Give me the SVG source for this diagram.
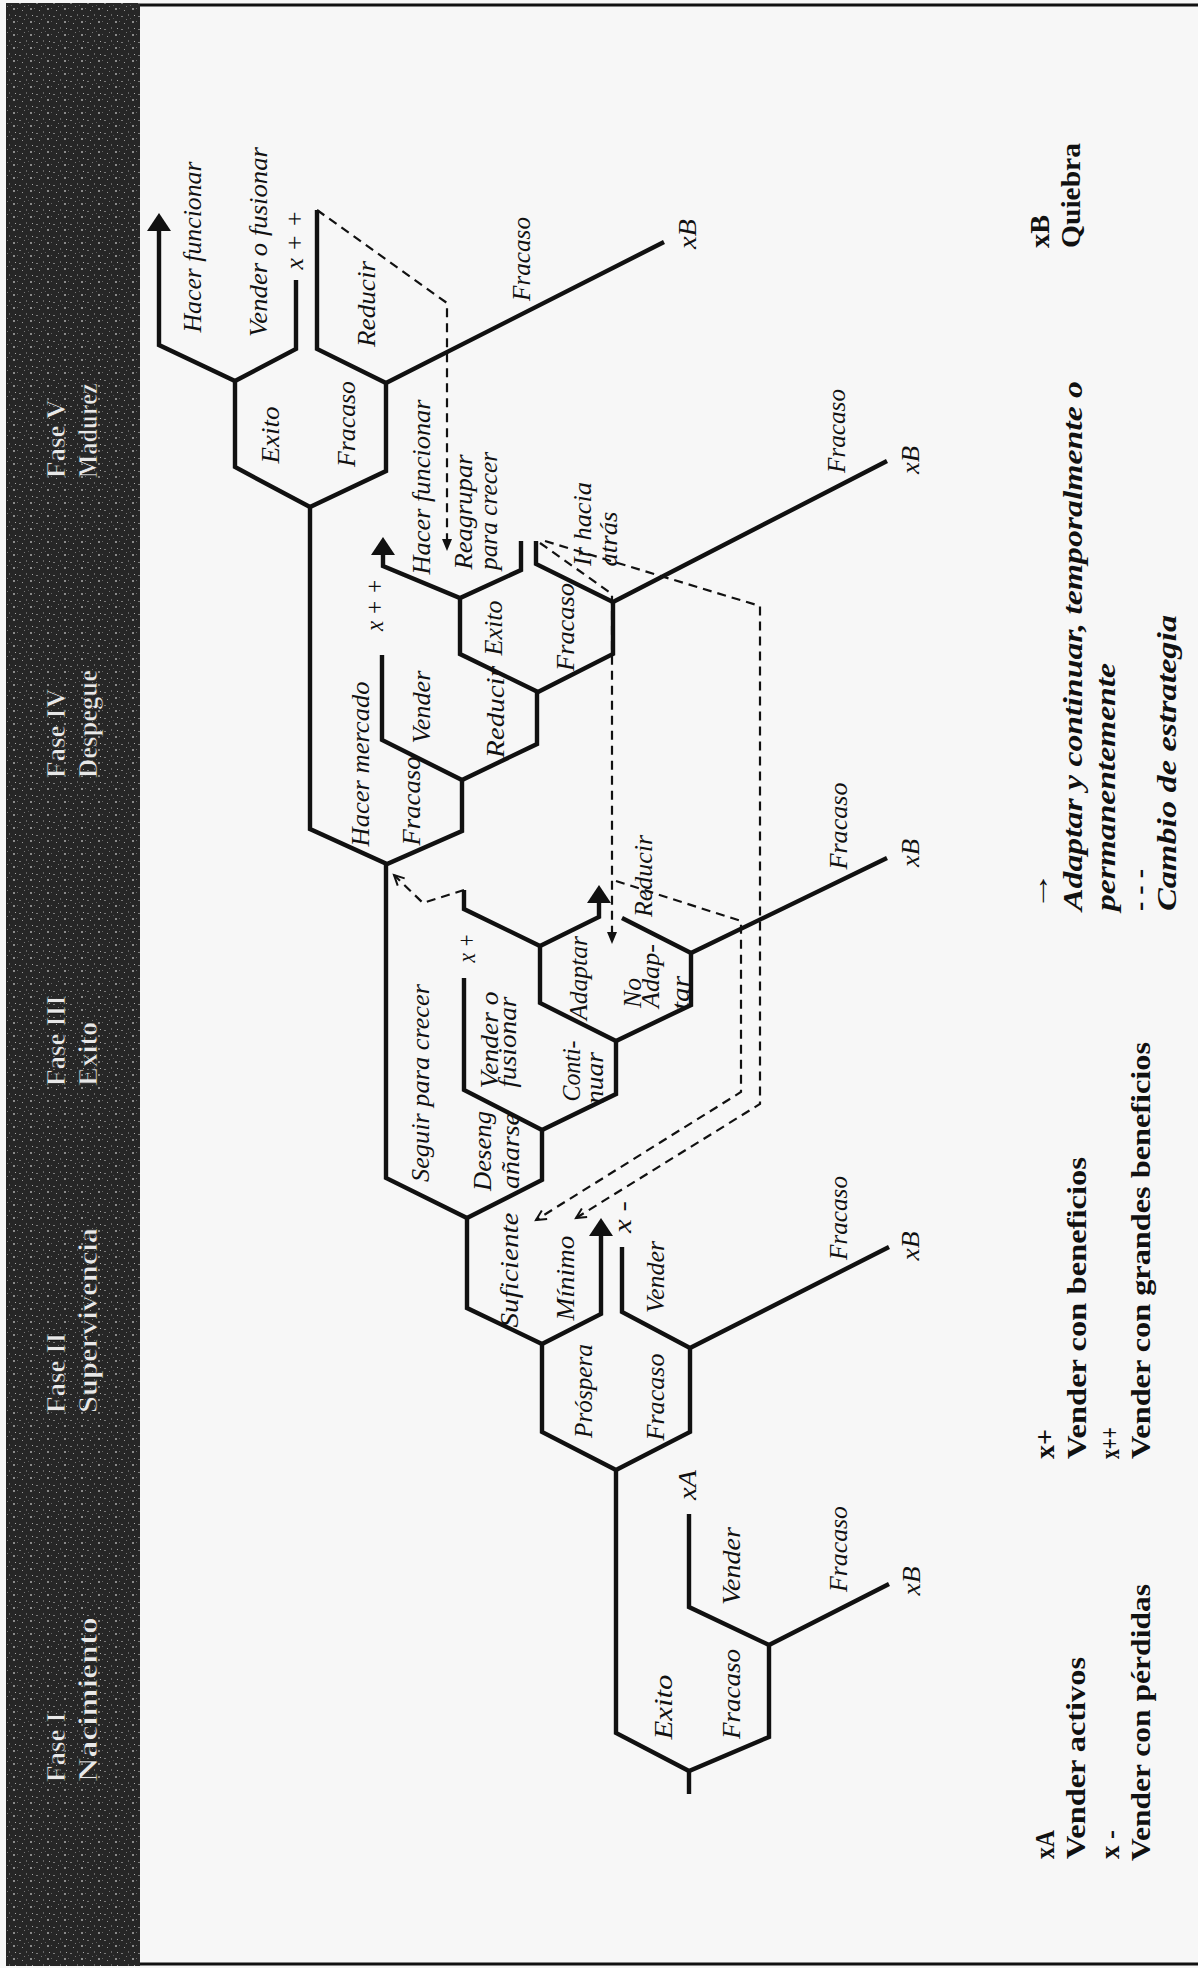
<svg xmlns="http://www.w3.org/2000/svg" width="1198" height="1968" viewBox="0 0 1198 1968">
<style>
.ln{fill:none;stroke:#111;stroke-width:4.4;stroke-linejoin:miter;stroke-linecap:butt}
.dl{fill:none;stroke:#111;stroke-width:2.2;stroke-dasharray:9 6}
.lb{font-family:"Liberation Serif",serif;font-style:italic;font-size:26px;fill:#111;text-anchor:middle}
.lg{font-family:"Liberation Serif",serif;font-weight:bold;font-size:28px;fill:#111}
.it{font-style:italic}
.ph{font-family:"Liberation Serif",serif;font-weight:bold;font-size:27px;fill:#e8e8e8;stroke:#111;stroke-width:0.6}
</style>
<defs>
<pattern id="noise" width="17" height="13" patternUnits="userSpaceOnUse">
<rect width="17" height="13" fill="#262626"/>
<rect x="2" y="3" width="2" height="1" fill="#7a7a7a"/>
<rect x="9" y="1" width="1" height="2" fill="#666"/>
<rect x="13" y="8" width="2" height="2" fill="#8a8a8a"/>
<rect x="5" y="10" width="1" height="1" fill="#999"/>
<rect x="11" y="5" width="1" height="1" fill="#5a5a5a"/>
<rect x="7" y="6" width="1" height="1" fill="#777"/>
<rect x="15" y="2" width="1" height="1" fill="#aaa"/>
<rect x="0" y="8" width="1" height="1" fill="#666"/>
</pattern>
<marker id="mA" markerUnits="userSpaceOnUse" markerWidth="18" markerHeight="24" viewBox="0 0 18 24" refX="8" refY="12" orient="auto">
<path d="M0,0 L18,12 L0,24 z" fill="#111"/>
</marker>
<marker id="mD" markerUnits="userSpaceOnUse" markerWidth="12" markerHeight="10" viewBox="0 0 12 10" refX="2" refY="5" orient="auto">
<path d="M0,0 L12,5 L0,10 z" fill="#111"/>
</marker>
<marker id="mV" markerUnits="userSpaceOnUse" markerWidth="12" markerHeight="12" viewBox="0 0 12 12" refX="11" refY="6" orient="auto" overflow="visible">
<path d="M1,1 L11,6 L1,11" fill="none" stroke="#111" stroke-width="2"/>
</marker>
</defs>

<rect width="1198" height="1968" fill="#f7f7f7"/>

<g id="phase-band">
<rect x="6" y="3" width="134" height="1963" fill="url(#noise)"/>
<text class="ph" transform="translate(65,478) rotate(-90)">Fase V</text>
<text class="ph" transform="translate(97,478) rotate(-90)" textLength="95" lengthAdjust="spacingAndGlyphs">Madurez</text>
<text class="ph" transform="translate(65,778) rotate(-90)">Fase IV</text>
<text class="ph" transform="translate(97,778) rotate(-90)" textLength="108" lengthAdjust="spacingAndGlyphs">Despegue</text>
<text class="ph" transform="translate(65,1086) rotate(-90)">Fase III</text>
<text class="ph" transform="translate(97,1086) rotate(-90)" textLength="64" lengthAdjust="spacingAndGlyphs">Exito</text>
<text class="ph" transform="translate(65,1413) rotate(-90)">Fase II</text>
<text class="ph" transform="translate(97,1413) rotate(-90)" textLength="185" lengthAdjust="spacingAndGlyphs">Supervivencia</text>
<text class="ph" transform="translate(65,1782) rotate(-90)">Fase I</text>
<text class="ph" transform="translate(97,1782) rotate(-90)" textLength="165" lengthAdjust="spacingAndGlyphs">Nacimiento</text>
</g>

<g id="frame">
<line x1="140" y1="5" x2="1198" y2="5" stroke="#111" stroke-width="3"/>
<line x1="140" y1="1964" x2="1198" y2="1964" stroke="#111" stroke-width="3"/>
</g>

<g id="connectors">
<path class="ln" d="M689,1794 V1771"/>
<path class="ln" d="M616,1470 V1733 L689,1771 L769,1737 V1645"/>
<path class="ln" d="M689,1514 V1607 L769,1645 L889,1584"/>
<path class="ln" d="M542,1344 V1432 L616,1470 L690,1432 V1348"/>
<path class="ln" d="M622,1247 V1312 L690,1348 L889,1247"/>
<path class="ln" d="M467,1218 V1308 L542,1344 L601,1314 V1228" marker-end="url(#mA)"/>
<path class="ln" d="M386,864 V1178 L467,1218 L542,1180 V1130"/>
<path class="ln" d="M464,978 V1090 L542,1130 L616,1094 V1041"/>
<path class="ln" d="M540,946 V1003 L616,1041 L691,1005 V953"/>
<path class="ln" d="M464,890 V909 L540,946 L599,917 V895" marker-end="url(#mA)"/>
<path class="ln" d="M622,918 L691,953 L887,858"/>
<path class="ln" d="M310,507 V829 L387,864 L462,831 V780"/>
<path class="ln" d="M382,655 V740 L462,780 L537,744 V692"/>
<path class="ln" d="M460,598 V654 L538,692 L613,654 V602"/>
<path class="ln" d="M521,541 V570 L460,598 L383,566 V547" marker-end="url(#mA)"/>
<path class="ln" d="M536,541 V564 L613,602 L887,461"/>
<path class="ln" d="M235,381 V467 L310,507 L386,471 V383"/>
<path class="ln" d="M296,280 V349 L235,381 L159,345 V223" marker-end="url(#mA)"/>
<path class="ln" d="M317,210 V349 L386,383 L664,242"/>

<path class="dl" d="M317,210 L447,303 V541" marker-end="url(#mD)"/>
<path class="dl" d="M540,543 L612,594 V934" marker-end="url(#mD)"/>
<path class="dl" d="M545,541 L760,606 V1104 L576,1218" marker-end="url(#mV)"/>
<path class="dl" d="M616,881 L741,921 V1092 L536,1220" marker-end="url(#mV)"/>
<path class="dl" d="M464,890 L423,903 L394,875" marker-end="url(#mV)"/>
</g>

<g id="n-top">
<text class="lb" transform="translate(201,247) rotate(-90)" textLength="171" lengthAdjust="spacingAndGlyphs">Hacer funcionar</text>
<text class="lb" transform="translate(267,242) rotate(-90)" textLength="190" lengthAdjust="spacingAndGlyphs">Vender o fusionar</text>
<text class="lb" transform="translate(303,240) rotate(-90)" textLength="59" lengthAdjust="spacingAndGlyphs">x + +</text>
<text class="lb" transform="translate(375,304) rotate(-90)" textLength="86" lengthAdjust="spacingAndGlyphs">Reducir</text>
<text class="lb" transform="translate(530,259) rotate(-90)" textLength="84" lengthAdjust="spacingAndGlyphs">Fracaso</text>
<text class="lb" transform="translate(696,234) rotate(-90)" textLength="30" lengthAdjust="spacingAndGlyphs">xB</text>
<text class="lb" transform="translate(279,435) rotate(-90)" textLength="57" lengthAdjust="spacingAndGlyphs">Exito</text>
<text class="lb" transform="translate(355,424) rotate(-90)" textLength="86" lengthAdjust="spacingAndGlyphs">Fracaso</text>
</g>

<g id="n-reagrupar">
<text class="lb" transform="translate(430,487) rotate(-90)" textLength="175" lengthAdjust="spacingAndGlyphs">Hacer funcionar</text>
<text class="lb" transform="translate(472,512) rotate(-90)" textLength="115" lengthAdjust="spacingAndGlyphs">Reagrupar</text>
<text class="lb" transform="translate(497,511) rotate(-90)" textLength="118" lengthAdjust="spacingAndGlyphs">para crecer</text>
<text class="lb" transform="translate(591,524) rotate(-90)" textLength="84" lengthAdjust="spacingAndGlyphs">Ir hacia</text>
<text class="lb" transform="translate(617,539) rotate(-90)" textLength="55" lengthAdjust="spacingAndGlyphs">atrás</text>
<text class="lb" transform="translate(383,605) rotate(-90)" textLength="52" lengthAdjust="spacingAndGlyphs">x + +</text>
<text class="lb" transform="translate(502,628) rotate(-90)" textLength="55" lengthAdjust="spacingAndGlyphs">Exito</text>
<text class="lb" transform="translate(574,627) rotate(-90)" textLength="88" lengthAdjust="spacingAndGlyphs">Fracaso</text>
<text class="lb" transform="translate(845,431) rotate(-90)" textLength="84" lengthAdjust="spacingAndGlyphs">Fracaso</text>
<text class="lb" transform="translate(919,460) rotate(-90)" textLength="28" lengthAdjust="spacingAndGlyphs">xB</text>
</g>

<g id="n-mercado">
<text class="lb" transform="translate(369,764) rotate(-90)" textLength="165" lengthAdjust="spacingAndGlyphs">Hacer mercado</text>
<text class="lb" transform="translate(420,801) rotate(-90)" textLength="89" lengthAdjust="spacingAndGlyphs">Fracaso</text>
<text class="lb" transform="translate(430,707) rotate(-90)" textLength="73" lengthAdjust="spacingAndGlyphs">Vender</text>
<text class="lb" transform="translate(504,712) rotate(-90)" textLength="92" lengthAdjust="spacingAndGlyphs">Reducir</text>
</g>

<g id="n-suficiente">
<text class="lb" transform="translate(429,1083) rotate(-90)" textLength="198" lengthAdjust="spacingAndGlyphs">Seguir para crecer</text>
<text class="lb" transform="translate(491,1151) rotate(-90)" textLength="80" lengthAdjust="spacingAndGlyphs">Deseng</text>
<text class="lb" transform="translate(519,1151) rotate(-90)" textLength="76" lengthAdjust="spacingAndGlyphs">añarse</text>
<text class="lb" transform="translate(498,1040) rotate(-90)" textLength="97" lengthAdjust="spacingAndGlyphs">Vender o</text>
<text class="lb" transform="translate(516,1042) rotate(-90)" textLength="91" lengthAdjust="spacingAndGlyphs">fusionar</text>
<text class="lb" transform="translate(580,1071) rotate(-90)" textLength="61" lengthAdjust="spacingAndGlyphs">Conti-</text>
<text class="lb" transform="translate(603,1078) rotate(-90)" textLength="52" lengthAdjust="spacingAndGlyphs">nuar</text>
<text class="lb" transform="translate(475,948) rotate(-90)" textLength="29" lengthAdjust="spacingAndGlyphs">x +</text>
<text class="lb" transform="translate(587,978) rotate(-90)" textLength="84" lengthAdjust="spacingAndGlyphs">Adaptar</text>
<text class="lb" transform="translate(641,993) rotate(-90)" textLength="30" lengthAdjust="spacingAndGlyphs">No</text>
<text class="lb" transform="translate(659,976) rotate(-90)" textLength="64" lengthAdjust="spacingAndGlyphs">Adap-</text>
<text class="lb" transform="translate(689,993) rotate(-90)" textLength="34" lengthAdjust="spacingAndGlyphs">tar</text>
<text class="lb" transform="translate(652,876) rotate(-90)" textLength="82" lengthAdjust="spacingAndGlyphs">Reducir</text>
<text class="lb" transform="translate(847,826) rotate(-90)" textLength="87" lengthAdjust="spacingAndGlyphs">Fracaso</text>
<text class="lb" transform="translate(919,853) rotate(-90)" textLength="28" lengthAdjust="spacingAndGlyphs">xB</text>
</g>

<g id="n-prospera">
<text class="lb" transform="translate(518,1270) rotate(-90)" textLength="115" lengthAdjust="spacingAndGlyphs">Suficiente</text>
<text class="lb" transform="translate(574,1278) rotate(-90)" textLength="85" lengthAdjust="spacingAndGlyphs">Mínimo</text>
<text class="lb" transform="translate(631,1217) rotate(-90)" textLength="32" lengthAdjust="spacingAndGlyphs">x -</text>
<text class="lb" transform="translate(664,1277) rotate(-90)" textLength="72" lengthAdjust="spacingAndGlyphs">Vender</text>
<text class="lb" transform="translate(847,1218) rotate(-90)" textLength="84" lengthAdjust="spacingAndGlyphs">Fracaso</text>
<text class="lb" transform="translate(919,1246) rotate(-90)" textLength="29" lengthAdjust="spacingAndGlyphs">xB</text>
<text class="lb" transform="translate(592,1391) rotate(-90)" textLength="94" lengthAdjust="spacingAndGlyphs">Próspera</text>
<text class="lb" transform="translate(664,1397) rotate(-90)" textLength="87" lengthAdjust="spacingAndGlyphs">Fracaso</text>
</g>

<g id="n-root">
<text class="lb" transform="translate(696,1485) rotate(-90)" textLength="30" lengthAdjust="spacingAndGlyphs">xA</text>
<text class="lb" transform="translate(740,1566) rotate(-90)" textLength="78" lengthAdjust="spacingAndGlyphs">Vender</text>
<text class="lb" transform="translate(672,1707) rotate(-90)" textLength="65" lengthAdjust="spacingAndGlyphs">Exito</text>
<text class="lb" transform="translate(740,1694) rotate(-90)" textLength="90" lengthAdjust="spacingAndGlyphs">Fracaso</text>
<text class="lb" transform="translate(847,1549) rotate(-90)" textLength="86" lengthAdjust="spacingAndGlyphs">Fracaso</text>
<text class="lb" transform="translate(920,1581) rotate(-90)" textLength="29" lengthAdjust="spacingAndGlyphs">xB</text>
</g>

<g id="legend">
<text class="lg" transform="translate(1054,1859) rotate(-90)" textLength="29" lengthAdjust="spacingAndGlyphs">xA</text>
<text class="lg" transform="translate(1085,1859) rotate(-90)" textLength="202" lengthAdjust="spacingAndGlyphs">Vender activos</text>
<text class="lg" transform="translate(1119,1859) rotate(-90)" textLength="29" lengthAdjust="spacingAndGlyphs">x -</text>
<text class="lg" transform="translate(1150,1861) rotate(-90)" textLength="277" lengthAdjust="spacingAndGlyphs">Vender con pérdidas</text>
<text class="lg" transform="translate(1054,1459) rotate(-90)" textLength="30" lengthAdjust="spacingAndGlyphs">x+</text>
<text class="lg" transform="translate(1086,1459) rotate(-90)" textLength="302" lengthAdjust="spacingAndGlyphs">Vender con beneficios</text>
<text class="lg" transform="translate(1119,1459) rotate(-90)" textLength="32" lengthAdjust="spacingAndGlyphs">x++</text>
<text class="lg" transform="translate(1150,1459) rotate(-90)" textLength="417" lengthAdjust="spacingAndGlyphs">Vender con grandes beneficios</text>
<text class="lg" transform="translate(1048,911) rotate(-90)" textLength="40" lengthAdjust="spacingAndGlyphs">→</text>
<text class="lg it" transform="translate(1082,911) rotate(-90)" textLength="530" lengthAdjust="spacingAndGlyphs">Adaptar y continuar, temporalmente o</text>
<text class="lg it" transform="translate(1115,911) rotate(-90)" textLength="248" lengthAdjust="spacingAndGlyphs">permanentemente</text>
<text class="lg" transform="translate(1148,911) rotate(-90)" textLength="42" lengthAdjust="spacingAndGlyphs">- - -</text>
<text class="lg it" transform="translate(1176,911) rotate(-90)" textLength="296" lengthAdjust="spacingAndGlyphs">Cambio de estrategia</text>
<text class="lg" transform="translate(1049,248) rotate(-90)" textLength="33" lengthAdjust="spacingAndGlyphs">xB</text>
<text class="lg" transform="translate(1080,248) rotate(-90)" textLength="105" lengthAdjust="spacingAndGlyphs">Quiebra</text>
</g>
</svg>
